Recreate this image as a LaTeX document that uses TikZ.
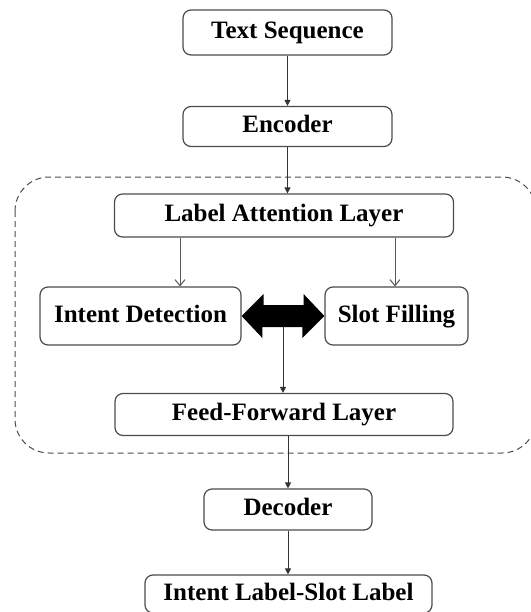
\documentclass[tikz,border=0pt]{standalone}
\usepackage{fontspec}
\setmainfont{Liberation Serif}
\usetikzlibrary{arrows.meta}
\begin{document}
\begin{tikzpicture}[x=0.5pt, y=-0.5pt,
  block/.style={draw=black!70, line width=0.6pt, rounded corners=4pt,
    inner sep=0pt, fill=white, text height=8.6pt, text depth=2.6pt,
    font=\fontsize{12.5}{15}\selectfont\bfseries},
  flow/.style={draw=black!80, line width=0.5pt, -{Triangle[length=3pt,width=3pt]}},
  branch/.style={draw=black!65, line width=0.5pt, -{Straight Barb[length=3pt,width=5pt]}},
  region/.style={draw=black!70, line width=0.5pt, dash pattern=on 3pt off 2pt, rounded corners=17pt}]
  \clip (0,0) rectangle (531,612);
  \useasboundingbox (0,0) rectangle (531,612);
  % dashed group
  \draw[region] (15,177) rectangle (536,453);
  % blocks
  \node[block, minimum width=104.5pt, minimum height=22.5pt] (seq) at (287.5,32.5) {Text Sequence};
  \node[block, minimum width=104.5pt, minimum height=20pt] (enc) at (287.5,126.5) {Encoder};
  \node[block, minimum width=169.5pt, minimum height=21.5pt] (lal) at (284,215.5) {Label Attention Layer};
  \node[block, minimum width=100.5pt, minimum height=29pt] (intent) at (140.5,316) {Intent Detection};
  \node[block, minimum width=71.5pt, minimum height=29pt] (slot) at (396.5,316) {Slot Filling};
  \node[block, minimum width=169pt, minimum height=21pt] (ffl) at (284,414.5) {Feed-Forward Layer};
  \node[block, minimum width=84pt, minimum height=20.5pt] (dec) at (288,509.5) {Decoder};
  \node[block, minimum width=143.5pt, minimum height=19pt] (out) at (288.5,594) {Intent Label-Slot Label};
  % interaction arrow
  \fill (intent.east) -- ++(22,-22) -- ++(0,11) -- ++(40,0) -- ++(0,-11)
    -- (slot.west) -- ++(-22,22) -- ++(0,-11) -- ++(-40,0) -- ++(0,11) -- cycle;
  \coordinate (link) at (283,327);
  \coordinate (lalL) at ([xshift=-52pt]lal.south);
  \coordinate (lalR) at ([xshift=55.5pt]lal.south);
  % connectors
  \draw[flow] (seq) -- (enc);
  \draw[flow] (enc) -- (enc |- lal.north);
  \draw[branch] (lalL) -- (lalL |- intent.north);
  \draw[branch] (lalR) -- (lalR |- slot.north);
  \draw[flow] (link) -- (link |- ffl.north);
  \draw[flow] (ffl.south -| dec) -- (dec);
  \draw[flow] (dec) -- (dec |- out.north);
\end{tikzpicture}
\end{document}
